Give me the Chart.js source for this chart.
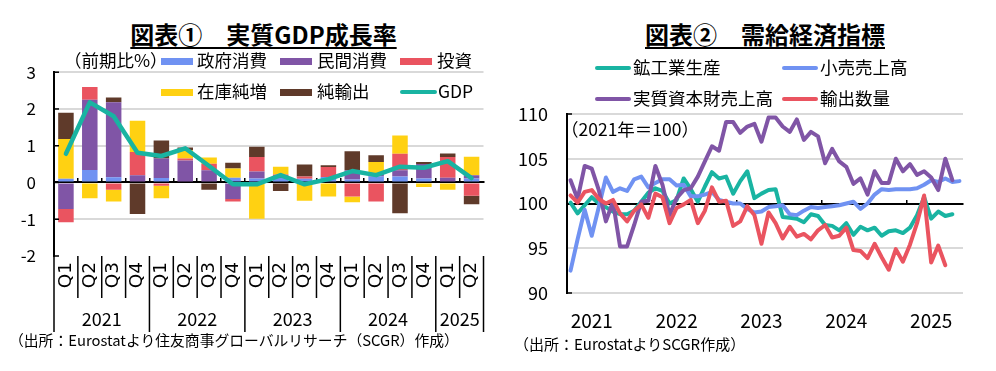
<!DOCTYPE html>
<html>
<head>
<meta charset="utf-8">
<script src="https://cdn.jsdelivr.net/npm/chart.js@4.4.1/dist/chart.umd.min.js"></script>
<style>
html, body { margin: 0; padding: 0; background: #fff; }
#wrap { position: relative; width: 996px; height: 371px; overflow: hidden; font-family: 'Noto Sans CJK JP', sans-serif; color: #000; }
.t { position: absolute; white-space: nowrap; line-height: 1; }
.ttl { font-size: 24px; font-weight: bold; text-align: center; text-decoration: underline; text-decoration-thickness: 2px; text-underline-offset: 3px; }
.lg { font-size: 17.5px; }
.note { font-size: 15px; }
.box { position: absolute; width: 32px; height: 7px; }
.ln { position: absolute; width: 36px; height: 4px; border-radius: 2px; }
canvas { position: absolute; }
</style>
</head>
<body>
<div id="wrap">
  <canvas id="gdp" width="500" height="290" style="left:0;top:60px"></canvas>
  <canvas id="ind" width="496" height="250" style="left:500px;top:100px"></canvas>

  <div class="t ttl" style="left:0;width:527px;top:22px">図表①　実質GDP成長率</div>
  <div class="t lg" style="left:64px;top:51px">（前期比%）</div>
  <div class="box" style="left:161px;top:58px;background:#7092f2"></div>
  <div class="t lg" style="left:197px;top:51px">政府消費</div>
  <div class="box" style="left:280px;top:58px;background:#8055a6"></div>
  <div class="t lg" style="left:317px;top:51px">民間消費</div>
  <div class="box" style="left:400px;top:58px;background:#ea5460"></div>
  <div class="t lg" style="left:437px;top:51px">投資</div>
  <div class="box" style="left:161px;top:89px;background:#ffd112"></div>
  <div class="t lg" style="left:197px;top:82px">在庫純増</div>
  <div class="box" style="left:280px;top:89px;background:#5f3a2a"></div>
  <div class="t lg" style="left:317px;top:82px">純輸出</div>
  <div class="ln" style="left:400px;top:90px;width:37px;background:#19b4a2"></div>
  <div class="t lg" style="left:438px;top:82px">GDP</div>
  <div class="t note" style="left:9px;top:333px;font-size:14.8px">（出所：Eurostatより住友商事グローバルリサーチ（SCGR）作成）</div>

  <div class="t ttl" style="left:534px;width:462px;top:22px">図表②　需給経済指標</div>
  <div class="ln" style="left:595px;top:66px;background:#19b4a2"></div>
  <div class="t lg" style="left:633px;top:58px">鉱工業生産</div>
  <div class="ln" style="left:782px;top:66px;background:#7092f2"></div>
  <div class="t lg" style="left:820px;top:58px">小売売上高</div>
  <div class="ln" style="left:595px;top:97px;background:#8055a6"></div>
  <div class="t lg" style="left:633px;top:89px">実質資本財売上高</div>
  <div class="ln" style="left:782px;top:97px;background:#ea5460"></div>
  <div class="t lg" style="left:820px;top:89px">輸出数量</div>
  <div class="t lg" style="left:561px;top:120px">（2021年＝100）</div>
  <div class="t note" style="left:514px;top:336px">（出所：EurostatよりSCGR作成）</div>
</div>

<script>
const FONT = "'Noto Sans CJK JP', sans-serif";
const TEAL = '#19b4a2', BLUE = '#7092f2', PURPLE = '#8055a6', RED = '#ea5460', YELLOW = '#ffd112', BROWN = '#5f3a2a';
const NONE = 'rgba(0,0,0,0)';

// 図表① 実質GDP成長率（前期比%、寄与度）
const quarters = ['Q1','Q2','Q3','Q4','Q1','Q2','Q3','Q4','Q1','Q2','Q3','Q4','Q1','Q2','Q3','Q4','Q1','Q2'];
const gdpYears = ['2021', '2022', '2023', '2024', '2025'];
const quartersPerYear = [4, 4, 4, 4, 2];
const govt   = [0.10, 0.34, 0.14, 0.00, 0.12, 0.00, 0.00, 0.13, 0.11, 0.12, 0.10, 0.15, 0.08, 0.16, 0.16, 0.11, 0.00, 0.11];
const priv   = [-0.72, 1.91, 2.04, 0.20, 0.53, 0.60, 0.33, -0.45, 0.19, 0.05, 0.00, 0.00, 0.25, 0.10, 0.17, 0.39, 0.13, 0.09];
const invest = [-0.36, 0.35, -0.20, 0.63, -0.09, 0.05, 0.18, -0.07, 0.39, 0.05, 0.06, 0.27, -0.38, -0.52, 0.45, 0.00, 0.56, -0.36];
const stock  = [1.08, -0.43, -0.32, 0.85, -0.34, 0.23, 0.17, 0.25, -0.99, 0.21, -0.50, -0.38, -0.16, 0.30, 0.50, -0.12, -0.20, 0.50];
const netExp = [0.72, 0.00, 0.13, -0.86, 0.49, 0.07, -0.20, 0.16, 0.28, -0.23, 0.33, 0.05, 0.52, 0.18, -0.84, 0.06, 0.10, -0.23];
const gdp    = [0.78, 2.18, 1.80, 0.81, 0.72, 0.93, 0.45, -0.05, -0.05, 0.20, -0.05, 0.09, 0.31, 0.20, 0.43, 0.40, 0.58, 0.12];

// 図表② 需給経済指標（2021年=100、月次）
const indYears = ['2021', '2022', '2023', '2024', '2025'];
const months = [];
indYears.forEach(y => { for (let m = 1; m <= 12; m++) months.push(y + '/' + m); });
months.length = 56; // 2021/1 - 2025/8

const mining = [100.1, 98.9, 99.8, 100.7, 100.0, 99.6, 99.1, 98.8, 98.8, 99.2, 100.2, 101.2,
                101.7, 101.4, 100.0, 100.4, 102.8, 101.6, 100.2, 101.9, 103.5, 102.8, 103.0, 101.1,
                102.5, 103.6, 100.6, 101.1, 101.5, 101.6, 98.5, 98.4, 98.3, 97.9, 98.8, 98.6,
                97.6, 97.5, 97.0, 97.8, 96.5, 97.4, 97.0, 97.3, 96.4, 96.9, 97.0, 96.7,
                97.3, 98.7, 100.7, 98.3, 99.1, 98.6, 98.8, null];
const retail = [92.5, 96.0, 99.3, 96.4, 99.6, 102.9, 101.3, 101.7, 101.4, 102.7, 103.0, 101.8,
                102.3, 102.7, 102.7, 102.0, 102.1, 100.8, 100.8, 101.0, 101.3, 100.4, 100.2, 100.0,
                100.0, 99.4, 99.0, 99.1, 99.6, 99.7, 99.8, 98.8, 98.7, 99.2, 99.6, 99.5,
                99.6, 99.7, 99.8, 100.0, 100.2, 99.4, 100.0, 101.0, 101.6, 101.5, 101.6, 101.6,
                101.6, 101.7, 102.1, 102.6, 102.4, 102.8, 102.4, 102.5];
const capGoods = [102.6, 100.5, 104.2, 103.9, 101.5, 98.0, 100.2, 95.2, 95.2, 97.6, 100.2, 100.3,
                  104.2, 102.1, 98.7, 100.6, 101.5, 101.7, 103.0, 104.7, 106.4, 105.9, 109.1, 109.1,
                  107.9, 108.6, 108.9, 106.9, 109.6, 109.6, 108.6, 108.0, 109.4, 107.1, 108.0, 107.5,
                  104.5, 106.1, 104.7, 104.1, 102.2, 102.8, 101.0, 103.6, 102.3, 102.3, 105.0, 103.6,
                  104.4, 103.2, 103.6, 102.9, 101.5, 105.0, 102.6, null];
const exportsVol = [100.9, 100.1, 101.3, 101.5, 100.5, 100.0, 100.4, 98.9, 98.0, 99.2, 99.9, 98.4,
                    101.1, 100.7, 97.8, 99.5, 99.9, 100.4, 97.8, 99.2, 101.8, 100.2, 100.3, 97.5,
                    98.0, 99.7, 98.7, 95.5, 99.0, 97.8, 96.1, 97.4, 96.3, 96.6, 96.0, 97.0,
                    97.6, 96.2, 96.4, 97.3, 94.8, 94.7, 93.9, 95.5, 94.0, 92.6, 94.9, 93.5,
                    95.4, 97.8, 100.9, 93.4, 95.3, 93.1, null, null];

// year label positions / separators for the two-level category axis
const yearCenters = [];
const yearEdges = new Set([0]);
quartersPerYear.reduce((start, n) => {
  yearCenters.push(start + n / 2 - 0.5);
  yearEdges.add(start + n);
  return start + n;
}, 0);

const quarterSeparators = {
  id: 'quarterSeparators',
  afterDraw(chart) {
    const { ctx, chartArea, scales } = chart;
    const xs = scales.x, xy = scales.xYear;
    const step = (xs.right - xs.left) / quarters.length;
    ctx.save();
    ctx.strokeStyle = '#000';
    ctx.lineWidth = 1.5;
    for (let i = 0; i <= quarters.length; i++) {
      const x = xs.left + i * step;
      const bottom = yearEdges.has(i) ? xy.bottom - 2 : xs.bottom;
      ctx.beginPath();
      ctx.moveTo(x, chartArea.bottom);
      ctx.lineTo(x, bottom);
      ctx.stroke();
    }
    ctx.restore();
  }
};

// short tick marks pointing into the plot from the value axis
const innerTicks = (only) => ({
  id: 'innerTicks',
  afterDraw(chart) {
    const { ctx, chartArea, scales: { y } } = chart;
    ctx.save();
    ctx.strokeStyle = '#000';
    ctx.lineWidth = 1.5;
    y.ticks.forEach(t => {
      if (only && !only.includes(t.value)) return;
      const py = y.getPixelForValue(t.value);
      ctx.beginPath();
      ctx.moveTo(chartArea.left, py);
      ctx.lineTo(chartArea.left + 5, py);
      ctx.stroke();
    });
    ctx.restore();
  }
});

const barSet = (label, data, color) => ({
  type: 'bar', label, data, backgroundColor: color, order: 1,
  barPercentage: 0.65, categoryPercentage: 1
});

new Chart(document.getElementById('gdp'), {
  data: {
    labels: quarters,
    datasets: [
      { type: 'line', label: 'GDP', data: gdp, borderColor: TEAL, borderWidth: 4.5,
        pointRadius: 0, tension: 0, order: 0, borderJoinStyle: 'round', borderCapStyle: 'round' },
      barSet('政府消費', govt, BLUE),
      barSet('民間消費', priv, PURPLE),
      barSet('投資', invest, RED),
      barSet('在庫純増', stock, YELLOW),
      barSet('純輸出', netExp, BROWN),
    ]
  },
  options: {
    responsive: false, animation: false, devicePixelRatio: 1,
    layout: { padding: { top: 12, right: 8, left: 0, bottom: 16 } },
    plugins: { legend: { display: false }, tooltip: { enabled: false } },
    scales: {
      x: {
        type: 'category', stacked: true, offset: true,
        grid: { display: false, drawTicks: false }, border: { display: false },
        ticks: { autoSkip: false, minRotation: 90, maxRotation: 90, padding: 6, color: '#000',
                 font: { size: 18.5, family: "'DejaVu Sans', sans-serif" } },
        afterFit: s => { s.height = 42; }
      },
      xYear: {
        type: 'linear', position: 'bottom', min: -0.5, max: 17.5,
        afterBuildTicks: s => { s.ticks = yearCenters.map(v => ({ value: v })); },
        grid: { display: false, drawTicks: false }, border: { display: false },
        ticks: { autoSkip: false, maxRotation: 0, padding: 10, color: '#000',
                 font: { size: 18, family: FONT }, callback: (v, i) => gdpYears[i] },
        afterFit: s => { s.height = 36; }
      },
      xZero: {
        type: 'category', position: { y: 0 }, offset: true,
        ticks: { display: false },
        border: { color: '#000', width: 2 },
        grid: { drawOnChartArea: false, offset: true, tickLength: -5, lineWidth: 1.5,
                color: c => (c.index > 0 && c.index < quarters.length) ? '#000' : NONE }
      },
      y: {
        stacked: true, min: -2, max: 3,
        ticks: { stepSize: 1, padding: 2, color: '#000', font: { size: 17, family: FONT } },
        border: { color: '#000', width: 2 },
        grid: { lineWidth: 2, tickLength: 16, tickColor: NONE,
                color: c => (c.tick.value === 0 || c.tick.value === -2) ? NONE : '#d9d9d9' },
        afterFit: s => { s.width = 54; }
      }
    }
  },
  plugins: [quarterSeparators, innerTicks(null)]
});

const lineSet = (label, data, color, order) => ({
  label, data, borderColor: color, order, xAxisID: 'x', yAxisID: 'y',
  borderWidth: 4, pointRadius: 0, tension: 0, fill: false,
  borderJoinStyle: 'round', borderCapStyle: 'round'
});

new Chart(document.getElementById('ind'), {
  type: 'line',
  data: {
    labels: months,
    datasets: [
      lineSet('鉱工業生産', mining, TEAL, 3),
      lineSet('小売売上高', retail, BLUE, 2),
      lineSet('実質資本財売上高', capGoods, PURPLE, 1),
      lineSet('輸出数量', exportsVol, RED, 0),
    ]
  },
  options: {
    responsive: false, animation: false, devicePixelRatio: 1,
    layout: { padding: { top: 14, right: 33, left: 0, bottom: 17 } },
    plugins: { legend: { display: false }, tooltip: { enabled: false } },
    scales: {
      x: {
        type: 'category', offset: true,
        grid: { display: false, drawTicks: false }, border: { display: false },
        ticks: { autoSkip: false, maxRotation: 0, padding: 16, color: '#000',
                 font: { size: 19, family: FONT },
                 callback: (v, i) => (i % 12 === 3 ? indYears[Math.floor(i / 12)] : '') },
        afterFit: s => { s.height = 40; }
      },
      x2: {
        type: 'category', position: { y: 100 }, offset: true,
        ticks: { display: false },
        border: { color: '#000', width: 2 },
        grid: { drawOnChartArea: false, offset: true, tickLength: -5, lineWidth: 1.5,
                color: c => (c.index > 0 && c.index % 12 === 0) ? '#000' : NONE }
      },
      y: {
        min: 90, max: 110,
        ticks: { stepSize: 5, padding: 2, color: '#000', font: { size: 18, family: FONT } },
        border: { color: '#000', width: 2 },
        grid: { lineWidth: 2, tickLength: 17, tickColor: NONE,
                color: c => c.tick.value === 100 ? NONE : '#d9d9d9' },
        afterFit: s => { s.width = 67; }
      }
    }
  },
  plugins: [innerTicks([110, 90])]
});
</script>
</body>
</html>
